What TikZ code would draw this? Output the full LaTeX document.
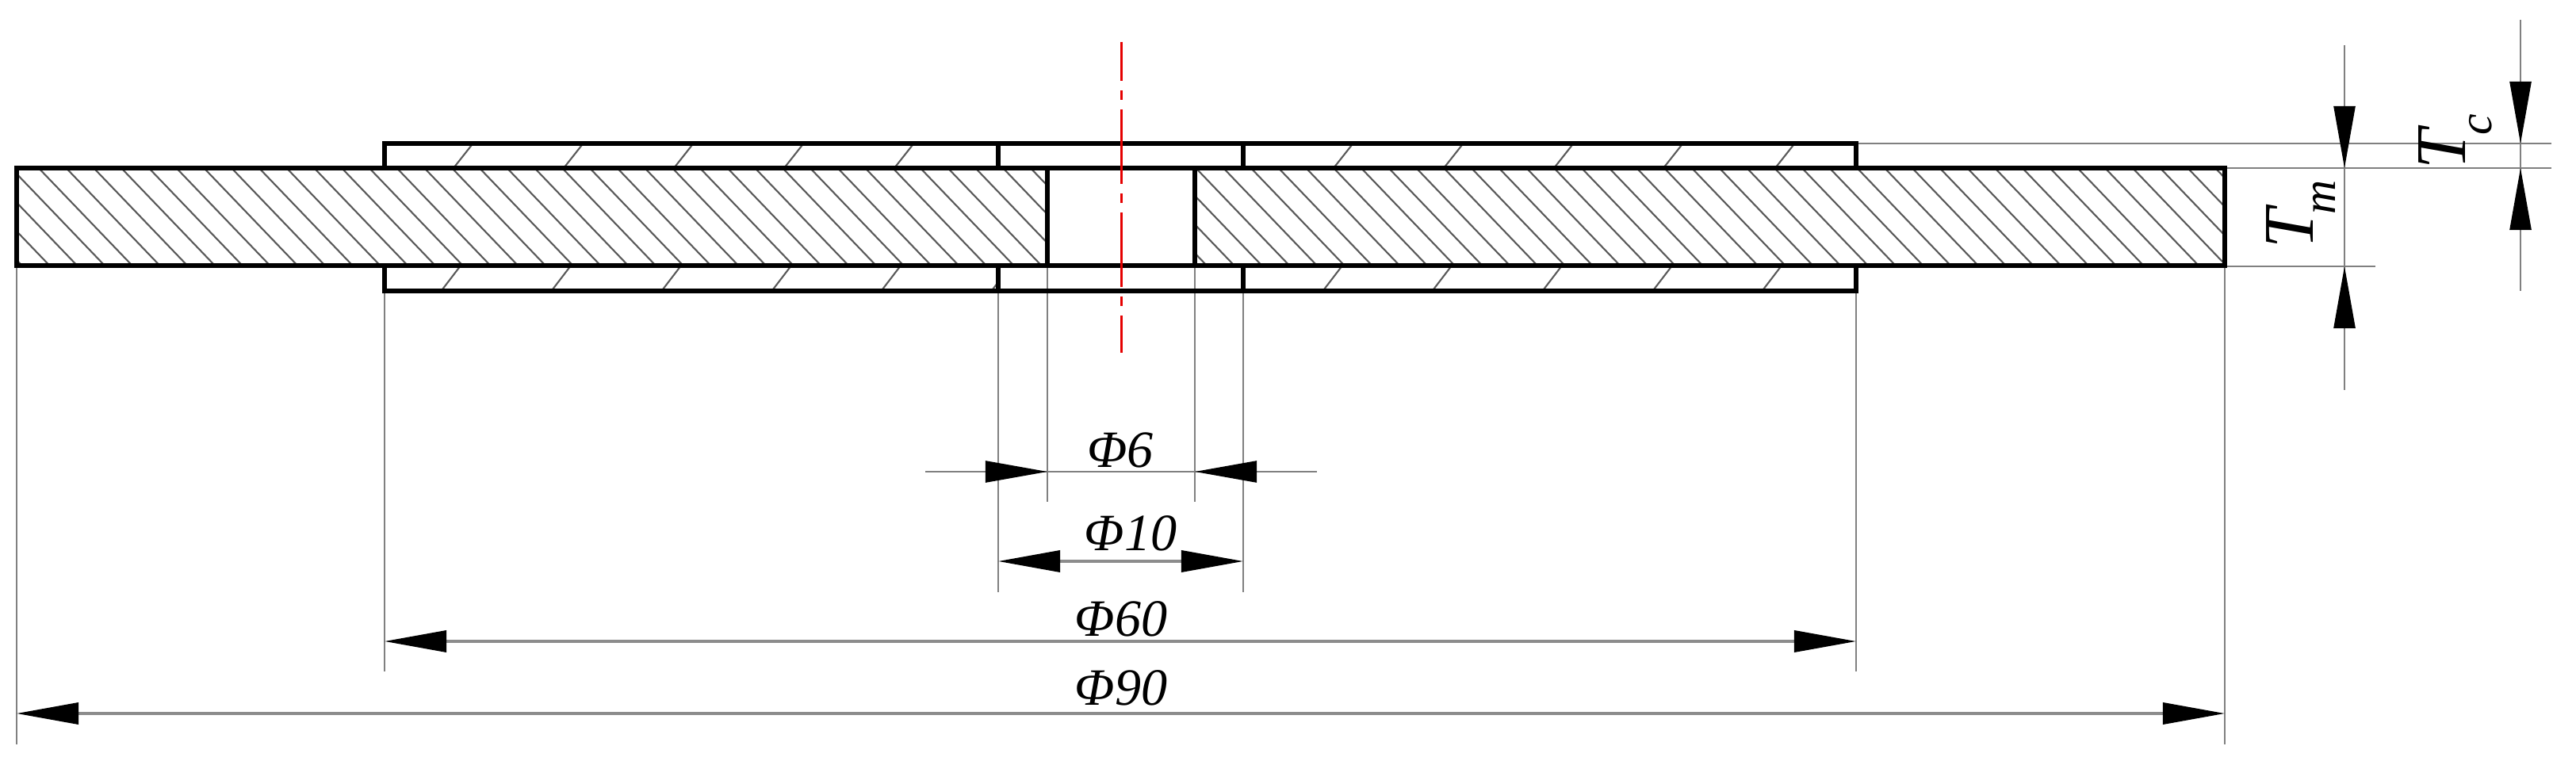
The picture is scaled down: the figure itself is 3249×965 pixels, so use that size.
\documentclass[tikz,border=0pt]{standalone}
\usepackage{fontspec}
\usepackage{tikz}
\usetikzlibrary{arrows.meta}
\setmainfont{Liberation Serif}
\newcommand{\dimfont}{\fontsize{18.8}{20}\selectfont\itshape}
\newcommand{\thickfont}{\fontsize{25.6}{28}\selectfont\itshape}
\newcommand{\subfont}{\fontsize{17}{18}\selectfont\itshape}
\newcommand{\thicklabel}[2]{{\thickfont T}\kern-0.07cm\raisebox{#2}{\subfont #1}}
\tikzset{
	dimhead/.tip = {Triangle[length=0.78cm,width=0.27cm,color=black]},
	outline/.style = {line width=1.45pt, black},
	dimline/.style = {line width=0.7pt, black!50},
	hatchline/.style = {line width=0.6pt, black!65},
	dimtip/.style = {-dimhead, line width=0.7pt, black!50},
	bothtips/.style = {dimhead-dimhead, line width=1pt, black!45},
	dimtext/.style = {inner sep=0, anchor=base, font=\dimfont},
	centerline/.style = {line width=0.85pt, red!90!black, dash pattern=on 0.94cm off 0.12cm on 0.12cm off 0.12cm, dash phase=0.45cm}
}
\begin{document}
\begin{tikzpicture}[x=0.01cm, y=-0.01cm]
	\useasboundingbox (0,0) rectangle (3249,965);

	\begin{scope}
		\clip (21,212) rectangle (1321,335) (1507,212) rectangle (2806,335)
			(485,181) rectangle (2341,212) (485,335) rectangle (1259,367) (1568,335) rectangle (2341,367);
		\foreach \x in {27.75,62.5,...,2950}
			\draw[hatchline] (\x,335) -- ++(-118,-123);
		\foreach \x in {572,711,850,989,1128,1682,1821,1960,2098,2239}
			\draw[hatchline] (\x,212) -- ++(24.5,-31);
		\foreach \x in {581,720,859,998,1136,1275,1693,1831,1970,2109,2247}
			\draw[hatchline] (\x,335) -- ++(-24.5,32);
	\end{scope}

	\foreach \x/\yend in {21/939,2806/939,485/847,2341/847,1259/747,1568/747,1321/633,1507/633}
		\draw[dimline] (\x,335) -- (\x,\yend);
	\draw[dimline] (2341,181) -- (3218,181);
	\draw[dimline] (2806,212) -- (3218,212);
	\draw[dimline] (2806,336) -- (2996,336);

	\draw[outline] (21,212) rectangle (2806,335);
	\draw[outline] (485,212) -- (485,181) -- (2341,181) -- (2341,212);
	\draw[outline] (485,335) -- (485,367) -- (2341,367) -- (2341,335);
	\foreach \x in {1259,1568} {
		\draw[outline] (\x,181) -- (\x,212);
		\draw[outline] (\x,335) -- (\x,367);
	}
	\foreach \x in {1321,1507}
		\draw[outline] (\x,212) -- (\x,335);

	\draw[centerline] (1414,53) -- (1414,445);

	\draw[dimline] (1167,595) -- (1661,595);
	\draw[dimtip] (1243,595) -- (1321,595);
	\draw[dimtip] (1585,595) -- (1507,595);
	\draw[bothtips] (1259,708) -- (1568,708);
	\draw[bothtips] (485,809) -- (2341,809);
	\draw[bothtips] (21,900) -- (2806,900);

	\draw[dimline] (2957,57) -- (2957,492);
	\draw[dimtip] (2957,134) -- (2957,212);
	\draw[dimtip] (2957,413) -- (2957,336);
	\draw[dimline] (3179,25) -- (3179,367);
	\draw[dimtip] (3179,103) -- (3179,181);
	\draw[dimtip] (3179,290) -- (3179,212);

	\node[dimtext] (dsix) at (1413,590) {Φ6};
	\node[dimtext] (dten) at (1426,695) {Φ10};
	\node[dimtext] (dsixty) at (1414,803) {Φ60};
	\node[dimtext] (dninety) at (1414,890) {Φ90};
	\node[rotate=90, inner sep=0, anchor=base west] (tm) at (2917,314) {\thicklabel{m}{-0.28cm}};
	\node[rotate=90, inner sep=0, anchor=base west] (tc) at (3109,214) {\thicklabel{c}{-0.33cm}};
\end{tikzpicture}
\end{document}
